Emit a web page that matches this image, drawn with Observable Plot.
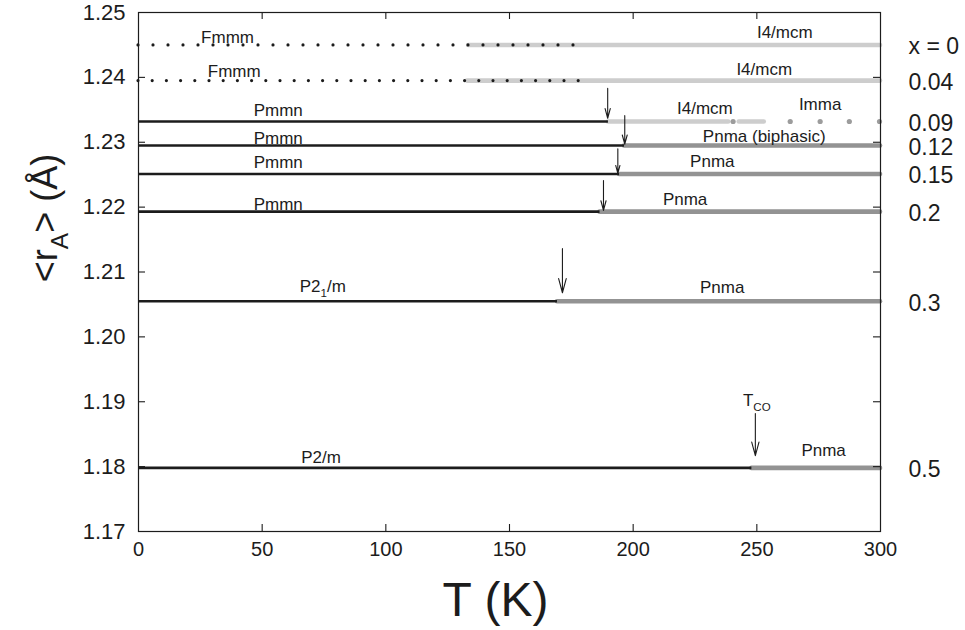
<!DOCTYPE html>
<html>
<head>
<meta charset="utf-8">
<script src="https://cdn.jsdelivr.net/npm/d3@7"></script>
<script src="https://cdn.jsdelivr.net/npm/@observablehq/plot@0.6"></script>
<style>
  html, body { margin: 0; padding: 0; background: #fff; }
  #chart svg { display: block; }
</style>
</head>
<body>
<div id="chart"></div>
<script>
// Compositions x and their average A-site radius <r_A> (Å)
const compLabels = ["x = 0", "0.04", "0.09", "0.12", "0.15", "0.2", "0.3", "0.5"];
const rA = [1.2450, 1.2395, 1.2332, 1.2295, 1.2251, 1.2193, 1.2055, 1.1798];

// Low-temperature phase: from 0 K up to lowEnd (Fmmm rows are dotted)
const lowEnd = [176.5, 179.2, 190, 196.5, 194.5, 186.6, 169.4, 248];

// High-temperature phase: from highStart up to highEnd
const highPhase = ["I4/mcm", "I4/mcm", "I4/mcm", "Pnma", "Pnma", "Pnma", "Pnma", "Pnma"];
const highStart = [133.5, 133, 190, 196.5, 194.5, 186.6, 169.4, 248];
const highEnd = [300, 300, 253, 300, 300, 300, 300, 300];

// x = 0.09: I4/mcm trace broken around the first Imma point; Imma points
const i4mcmGap = [238.6, 242.9];
const immaT = [240.4, 263.5, 275.6, 287.4, 299.6];

// Transition arrows
const arrowT = [189.7, 196.6, 193.8, 188.0, 171.4, 249.4];
const arrowFrom = [1.2383, 1.2341, 1.2290, 1.2241, 1.2136, 1.1882];
const arrowTo = [1.2337, 1.2297, 1.2252, 1.2195, 1.2068, 1.1817];

// Phase names (baseline at phaseT, phaseR)
const phaseText = ["Fmmm", "Fmmm", "Pmmn", "Pmmn", "Pmmn", "Pmmn", "P2_{1}/m", "P2/m",
  "I4/mcm", "I4/mcm", "I4/mcm", "Imma", "Pnma (biphasic)", "Pnma", "Pnma", "Pnma", "Pnma", "T_{CO}"];
const phaseT = [36, 38.7, 56.5, 56.5, 56.5, 56.5, 74.5, 73.8,
  261.3, 253, 229, 275.6, 253, 232, 221, 236, 277, 250];
const phaseR = [1.2453, 1.2401, 1.2341, 1.2298, 1.2261, 1.2196, 1.2069, 1.1806,
  1.2460, 1.2404, 1.2344, 1.2349, 1.2300, 1.2262, 1.2203, 1.2068, 1.1817, 1.1894];

// Axis ticks
const xTicks = [0, 50, 100, 150, 200, 250, 300];
const yTicks = [1.17, 1.18, 1.19, 1.20, 1.21, 1.22, 1.23, 1.24, 1.25];

// Tables built from the arrays above
const rows = compLabels.map((label, i) => ({label, r: rA[i], lowEnd: lowEnd[i]}));
const highSegs = [];
rows.forEach((d, i) => {
  if (i === 2) {
    highSegs.push({r: d.r, x1: highStart[i], x2: i4mcmGap[0], phase: highPhase[i]});
    highSegs.push({r: d.r, x1: i4mcmGap[1], x2: highEnd[i], phase: highPhase[i]});
  } else {
    highSegs.push({r: d.r, x1: highStart[i], x2: highEnd[i], phase: highPhase[i]});
  }
});
const arrows = arrowT.map((T, i) => ({T, from: arrowFrom[i], to: arrowTo[i]}));
const phaseLabels = phaseText.map((text, i) => ({text, T: phaseT[i], r: phaseR[i]}));

const W = 965, H = 630;
const mL = 138, mR = 85, mT = 12, mB = 99;
const innerW = W - mL - mR, innerH = H - mT - mB;
const tickLen = 7;
const ink = "#1c1c1c";

const chart = Plot.plot({
  width: W,
  height: H,
  marginLeft: mL,
  marginRight: mR,
  marginTop: mT,
  marginBottom: mB,
  x: {domain: [0, 300]},
  y: {domain: [1.17, 1.25]},
  style: {fontFamily: "'Liberation Sans', Arial, Helvetica, sans-serif", background: "#fff", color: ink},
  marks: [
    // high-temperature phases (grey)
    Plot.ruleY(highSegs, {
      y: "r", x1: "x1", x2: "x2",
      stroke: d => d.phase === "I4/mcm" ? "#cdcdcd" : "#939393",
      strokeWidth: 4.6, strokeLinecap: "round"
    }),
    Plot.dot(immaT, {x: d => d, y: rA[2], r: 2.6, fill: "#9c9c9c", stroke: "none"}),
    // low-temperature phases (black); Fmmm drawn dotted
    Plot.ruleY(rows.filter((d, i) => i === 0), {
      y: "r", x1: 0, x2: "lowEnd", stroke: ink, strokeWidth: 3.2,
      strokeLinecap: "round", strokeDasharray: "0 15"
    }),
    Plot.ruleY(rows.filter((d, i) => i === 1), {
      y: "r", x1: 0, x2: "lowEnd", stroke: ink, strokeWidth: 3.2,
      strokeLinecap: "round", strokeDasharray: "0 14.2"
    }),
    Plot.ruleY(rows.filter((d, i) => i > 1), {
      y: "r", x1: 0, x2: "lowEnd", stroke: ink, strokeWidth: 2.6
    }),
    // transition arrows
    Plot.arrow(arrows, {
      x: "T", y1: "from", y2: "to", stroke: ink, strokeWidth: 1.1,
      headLength: 30, headAngle: 30
    }),
    // phase names
    Plot.text(phaseLabels, {
      x: "T", y: "r", text: "text", fontSize: 17, lineAnchor: "bottom",
      textAnchor: "middle", fill: ink
    }),
    // composition labels at right
    Plot.text(rows, {
      x: 300, y: "r", text: "label", dx: 28, dy: 2, textAnchor: "start",
      lineAnchor: "middle", fontSize: 23, fill: ink
    }),
    // inward ticks on all four sides
    Plot.ruleX(xTicks.slice(1, -1), {x: d => d, insetTop: innerH - tickLen, stroke: ink, strokeWidth: 1.1}),
    Plot.ruleX(xTicks.slice(1, -1), {x: d => d, insetBottom: innerH - tickLen, stroke: ink, strokeWidth: 1.1}),
    Plot.ruleY(yTicks.slice(1, -1), {y: d => d, insetRight: innerW - tickLen, stroke: ink, strokeWidth: 1.1}),
    Plot.ruleY(yTicks.slice(1, -1), {y: d => d, insetLeft: innerW - tickLen, stroke: ink, strokeWidth: 1.1}),
    Plot.frame({stroke: ink, strokeWidth: 1.2}),
    // tick labels
    Plot.axisX({ticks: xTicks, tickSize: 0, tickPadding: 10, fontSize: 20, label: null, tickFormat: d3.format("d")}),
    Plot.axisY({ticks: yTicks, tickSize: 0, tickPadding: 13, fontSize: 22, label: null, tickFormat: d3.format(".2f")}),
    // axis titles
    Plot.text(["T (K)"], {frameAnchor: "bottom", dx: -14, dy: 69, textAnchor: "middle", lineAnchor: "middle", fontSize: 48, fill: ink}),
    Plot.text(["<r_{A}> (Å)"], {frameAnchor: "left", rotate: -90, dx: -93, dy: -54, textAnchor: "middle", lineAnchor: "middle", fontSize: 36, fill: ink})
  ]
});

document.getElementById("chart").appendChild(chart);

// Render "_{...}" as a subscript
d3.select(chart).selectAll("text").each(function() {
  const s = this.textContent;
  const m = s.match(/^(.*)_\{([^}]*)\}(.*)$/);
  if (!m) return;
  const size = parseFloat(getComputedStyle(this).fontSize) || 16;
  const shift = 0.3 * size;
  const el = d3.select(this);
  el.text(null);
  el.append("tspan").text(m[1]);
  el.append("tspan").attr("font-size", 0.68 * size).attr("dy", shift).text(m[2]);
  if (m[3]) el.append("tspan").attr("dy", -shift).text(m[3]);
});
</script>
</body>
</html>
